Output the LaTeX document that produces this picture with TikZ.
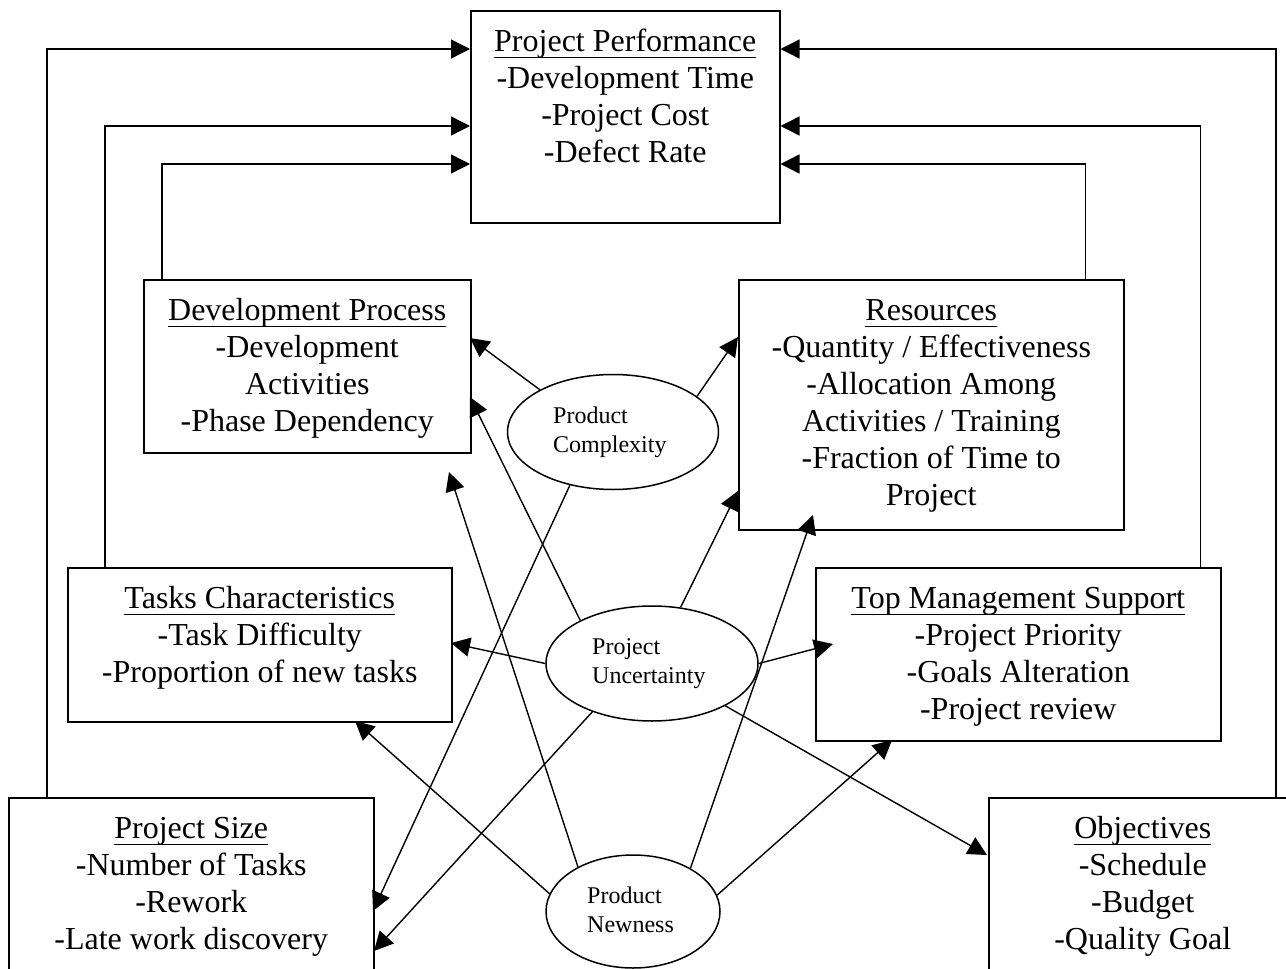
\documentclass[tikz,border=0pt]{standalone}
\usepackage{fontspec}
\setmainfont{Liberation Serif}
\usetikzlibrary{shapes.geometric,arrows.meta,positioning}

% underlined heading with a fixed rule position
\newcommand{\hdr}[1]{\setbox0\hbox{#1}\rlap{\rule[-6.8pt]{\wd0}{1.4pt}}\box0}
\newcommand{\bigstrut}{\rule{0pt}{24pt}}
\newcommand{\smallstrut}{\rule{0pt}{18pt}}

\begin{document}
\begin{tikzpicture}[x=1pt,y=-1pt,
  box/.style={draw, line width=1.5pt, rectangle, anchor=north west, inner sep=0pt},
  oval/.style={draw, line width=1.5pt, ellipse, inner sep=0pt},
  txt/.style={align=center, inner sep=0pt, font=\fontsize{32}{37}\selectfont},
  etxt/.style={align=left, inner sep=0pt, font=\fontsize{24}{29}\selectfont},
  link/.style={line width=1.4pt, -{Triangle[length=19pt,width=19pt]}}]

\useasboundingbox (0,0) rectangle (1286,969);
\clip (0,0) rectangle (1286,969);

% boxes
\node[box, minimum width=309pt, minimum height=212pt] (perf) at (470,10) {};
\node[box, minimum width=327pt, minimum height=173pt] (dev) at (143,279) {};
\node[box, minimum width=385pt, minimum height=250pt] (res) at (738,279) {};
\node[box, minimum width=384pt, minimum height=154pt] (tasks) at (67,567) {};
\node[box, minimum width=405pt, minimum height=173pt] (tm) at (815,567) {};
\node[box, minimum width=365pt, minimum height=200pt] (ps) at (8,797) {};
\node[box, minimum width=308pt, minimum height=200pt] (obj) at (988,797) {};

% box texts
\node[txt, below=17pt of perf.north] (perftxt)
  {\bigstrut\hdr{Project Performance}\\-Development Time\\-Project Cost\\-Defect Rate};
\node[txt, below=17pt of dev.north] (devtxt)
  {\bigstrut\hdr{Development Process}\\-Development\\Activities\\-Phase Dependency};
\node[txt, below=17pt of res.north] (restxt)
  {\bigstrut\hdr{Resources}\\-Quantity / Effectiveness\\-Allocation Among\\Activities / Training\\-Fraction of Time to\\Project};
\node[txt, below=17pt of tasks.north] (taskstxt)
  {\bigstrut\hdr{Tasks Characteristics}\\-Task Difficulty\\-Proportion of new tasks};
\node[txt, below=17pt of tm.north] (tmtxt)
  {\bigstrut\hdr{Top Management Support}\\-Project Priority\\-Goals Alteration\\-Project review};
\node[txt, below=17pt of ps.north] (pstxt)
  {\bigstrut\hdr{Project Size}\\-Number of Tasks\\-Rework\\-Late work discovery};
\node[txt, below=17pt of obj.north] (objtxt)
  {\bigstrut\hdr{Objectives}\\-Schedule\\-Budget\\-Quality Goal};

% ellipses
\node[oval, minimum width=211pt, minimum height=115pt] (pc) at (613,432) {};
\node[oval, minimum width=212pt, minimum height=115pt] (pu) at (652,663.5) {};
\node[oval, minimum width=174pt, minimum height=113pt] (pn) at (633,911.5) {};
\node[etxt, anchor=north west] (pctxt) at (553,405) {\smallstrut Product\\Complexity};
\node[etxt, anchor=north west] (putxt) at (592,636) {\smallstrut Project\\Uncertainty};
\node[etxt, anchor=north west] (pntxt) at (587,885) {\smallstrut Product\\Newness};

% feedback paths into project performance
\draw[link] ([xshift=39pt]ps.north west) |- ([yshift=-39pt]perf.north west);
\draw[link] ([xshift=38pt]tasks.north west) |- ([yshift=-116pt]perf.north west);
\draw[link] ([xshift=19pt]dev.north west) |- ([yshift=-154pt]perf.north west);
\draw[link] ([xshift=288pt]obj.north west) |- ([yshift=-39pt]perf.north east);
\draw[link] ([xshift=-21pt]tm.north east) |- ([yshift=-116pt]perf.north east);
\draw[link] ([xshift=-39pt]res.north east) |- ([yshift=-154pt]perf.north east);

% arrow targets on the boxes
\coordinate (tDev1) at (470,338);
\coordinate (tDev2) at (470,397);
\coordinate (tDev3) at (449,472);
\coordinate (tRes1) at (738,337);
\coordinate (tRes2) at (738,491);
\coordinate (tRes3) at (813,515);
\coordinate (tTasks1) at (451,643);
\coordinate (tTasks2) at (355,721);
\coordinate (tTm1) at (833,644);
\coordinate (tTm2) at (892,740);
\coordinate (tPs1) at (373,911);
\coordinate (tPs2) at (374,951);
\coordinate (tObj) at (987,855);

% product complexity
\draw[link] (pc.150) -- (tDev1);
\draw[link] (pc.23) -- (tRes1);
\draw[link] (pc.231.5) -- (tPs1);
% project uncertainty
\draw[link] (pu.149.7) -- (tDev2);
\draw[link] (pu.63.2) -- (tRes2);
\draw[link] (pu.180) -- (tTasks1);
\draw[link] (pu.0) -- (tTm1);
\draw[link] (pu.219.3) -- (tPs2);
\draw[link] (pu.330) -- (tObj);
% product newness
\draw[link] (pn.141.4) -- (tDev3);
\draw[link] (pn.168.5) -- (tTasks2);
\draw[link] (pn.37.4) -- (tRes3);
\draw[link] (pn.11.6) -- (tTm2);

\end{tikzpicture}
\end{document}
